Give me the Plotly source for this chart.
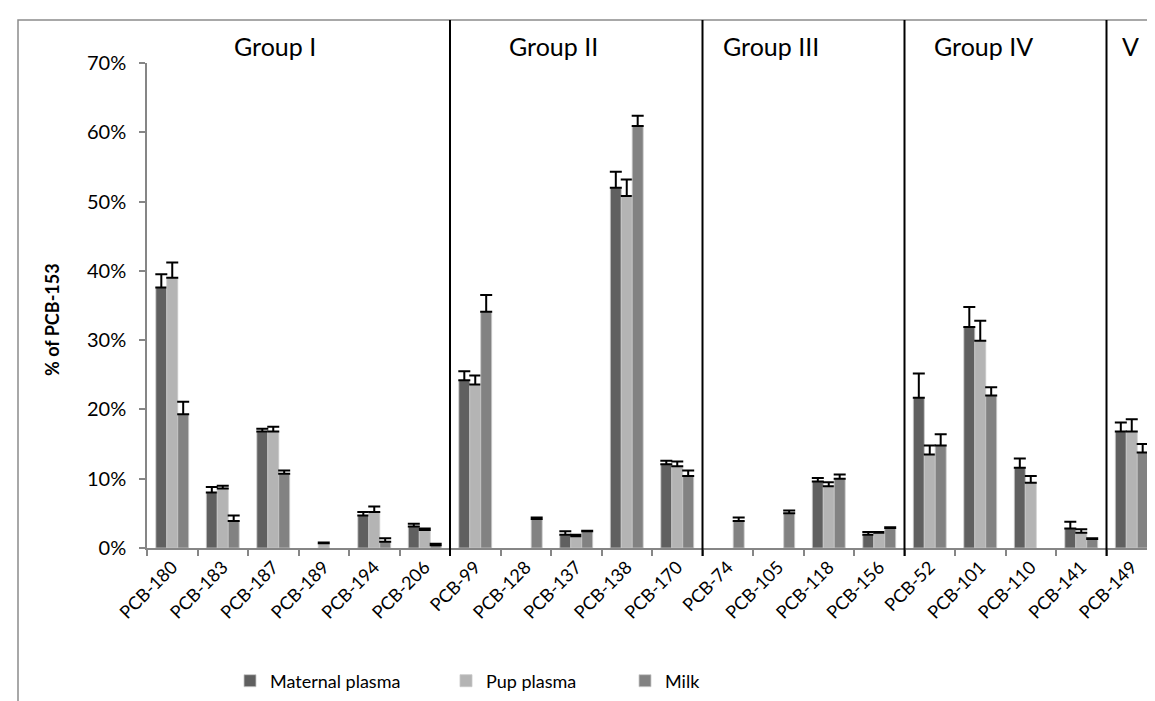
import plotly.graph_objects as go

categories = ["PCB-180", "PCB-183", "PCB-187", "PCB-189", "PCB-194", "PCB-206",
              "PCB-99", "PCB-128", "PCB-137", "PCB-138", "PCB-170",
              "PCB-74", "PCB-105", "PCB-118", "PCB-156",
              "PCB-52", "PCB-101", "PCB-110", "PCB-141",
              "PCB-149"]

maternal = [37.6, 8.0, 16.8, None, 4.7, 3.1,
            24.2, None, 1.9, 52.0, 12.1,
            None, None, 9.6, 1.9,
            21.7, 31.9, 11.6, 2.8,
            16.8]
maternal_err = [1.9, 0.8, 0.4, None, 0.5, 0.4,
                1.3, None, 0.5, 2.3, 0.5,
                None, None, 0.5, 0.4,
                3.5, 2.9, 1.3, 1.0,
                1.3]

pup = [39.0, 8.6, 16.8, 0.7, 5.2, 2.6,
       23.6, None, 1.7, 50.8, 11.8,
       None, None, 8.9, 2.2,
       13.5, 29.9, 9.4, 2.2,
       16.8]
pup_err = [2.2, 0.4, 0.7, 0.1, 0.8, 0.2,
           1.3, None, 0.2, 2.4, 0.7,
           None, None, 0.6, 0.1,
           1.3, 2.9, 1.0, 0.5,
           1.8]

milk = [19.3, 3.9, 10.7, None, 0.9, 0.4,
        34.1, 4.2, 2.4, 60.9, 10.4,
        3.9, 5.0, 10.0, 2.9,
        14.8, 22.0, None, 1.3,
        13.8]
milk_err = [1.8, 0.8, 0.5, None, 0.5, 0.2,
            2.4, 0.2, 0.1, 1.5, 0.8,
            0.5, 0.4, 0.6, 0.1,
            1.6, 1.2, None, 0.1,
            1.2]

series_names = ["Maternal plasma", "Pup plasma", "Milk"]
series_colors = ["#606060", "#b4b4b4", "#828282"]

group_labels = ["Group I", "Group II", "Group III", "Group IV", "V"]
group_label_pos = [2.04, 7.54, 11.86, 16.07, 18.98]
group_boundaries = [5.5, 10.5, 14.5, 18.5]

FONT = "Lato"

fig = go.Figure()
legend_ids = ["legend", "legend2", "legend3"]
for name, vals, errs, col, lg in zip(series_names, [maternal, pup, milk],
                                     [maternal_err, pup_err, milk_err],
                                     series_colors, legend_ids):
    fig.add_trace(go.Bar(
        x=categories, y=vals, name=name, legend=lg,
        marker=dict(color=col, line=dict(color="#c8c8c8", width=0.8)),
        error_y=dict(type="data", array=errs, arrayminus=[0] * len(errs),
                     symmetric=False, color="black", thickness=2, width=6),
    ))

plot_left, plot_right, plot_top, plot_bottom = 139, 1149, 55, 540
W, H = 1155, 701
pw = plot_right - plot_left
ph = plot_bottom - plot_top

def px_x(p):
    return (p - plot_left) / pw

def px_y(p):
    return (plot_bottom - p) / ph

shapes = []
for b in group_boundaries:
    shapes.append(dict(type="line", xref="x", yref="paper", x0=b, x1=b,
                       y0=px_y(548), y1=px_y(12),
                       line=dict(color="black", width=2)))
# outer chart border
shapes.append(dict(type="rect", xref="paper", yref="paper",
                   x0=px_x(10), x1=px_x(1200), y0=px_y(760), y1=px_y(12),
                   line=dict(color="#8c8c8c", width=1.5), fillcolor="rgba(0,0,0,0)",
                   layer="below"))

annotations = []
for lab, pos in zip(group_labels, group_label_pos):
    annotations.append(dict(text=lab, x=pos, xref="x", y=px_y(38), yref="paper",
                            showarrow=False, xanchor="center", yanchor="middle",
                            font=dict(family=FONT, size=25, color="black")))
annotations.append(dict(text="<b>% of PCB-153</b>", x=px_x(44), xref="paper",
                        y=px_y(312), yref="paper", textangle=-90, showarrow=False,
                        xanchor="center", yanchor="middle",
                        font=dict(family=FONT, size=18, color="black")))

legend_common = dict(orientation="h", yanchor="middle", xanchor="left",
                     font=dict(family=FONT, size=18, color="black"),
                     bgcolor="rgba(0,0,0,0)", itemwidth=30)
legend_x = [px_x(222), px_x(438), px_x(617)]

fig.update_layout(
    width=W, height=H,
    margin=dict(l=plot_left, r=W - plot_right, t=plot_top, b=H - plot_bottom, autoexpand=False),
    paper_bgcolor="white", plot_bgcolor="white",
    barmode="group", bargap=0.35, bargroupgap=0,
    showlegend=True,
    legend=dict(x=legend_x[0], y=px_y(673), **legend_common),
    legend2=dict(x=legend_x[1], y=px_y(673), **legend_common),
    legend3=dict(x=legend_x[2], y=px_y(673), **legend_common),
    shapes=shapes, annotations=annotations,
    font=dict(family=FONT, color="black"),
)
fig.update_xaxes(type="category", showline=True, linecolor="#868686", linewidth=1.5,
                 ticks="outside", tickson="boundaries", ticklen=6, tickcolor="#868686",
                 tickwidth=1.5, tickangle=-45, showgrid=False, zeroline=False,
                 tickfont=dict(family=FONT, size=18, color="black"))
fig.update_yaxes(range=[0, 70], dtick=10, ticksuffix="%", showline=True,
                 linecolor="#868686", linewidth=1.5, ticks="outside", ticklen=6,
                 tickcolor="#868686", tickwidth=1.5, showgrid=False, zeroline=False,
                 ticklabelstandoff=9,
                 tickfont=dict(family=FONT, size=20, color="black"))

fig.write_html("out.html")
